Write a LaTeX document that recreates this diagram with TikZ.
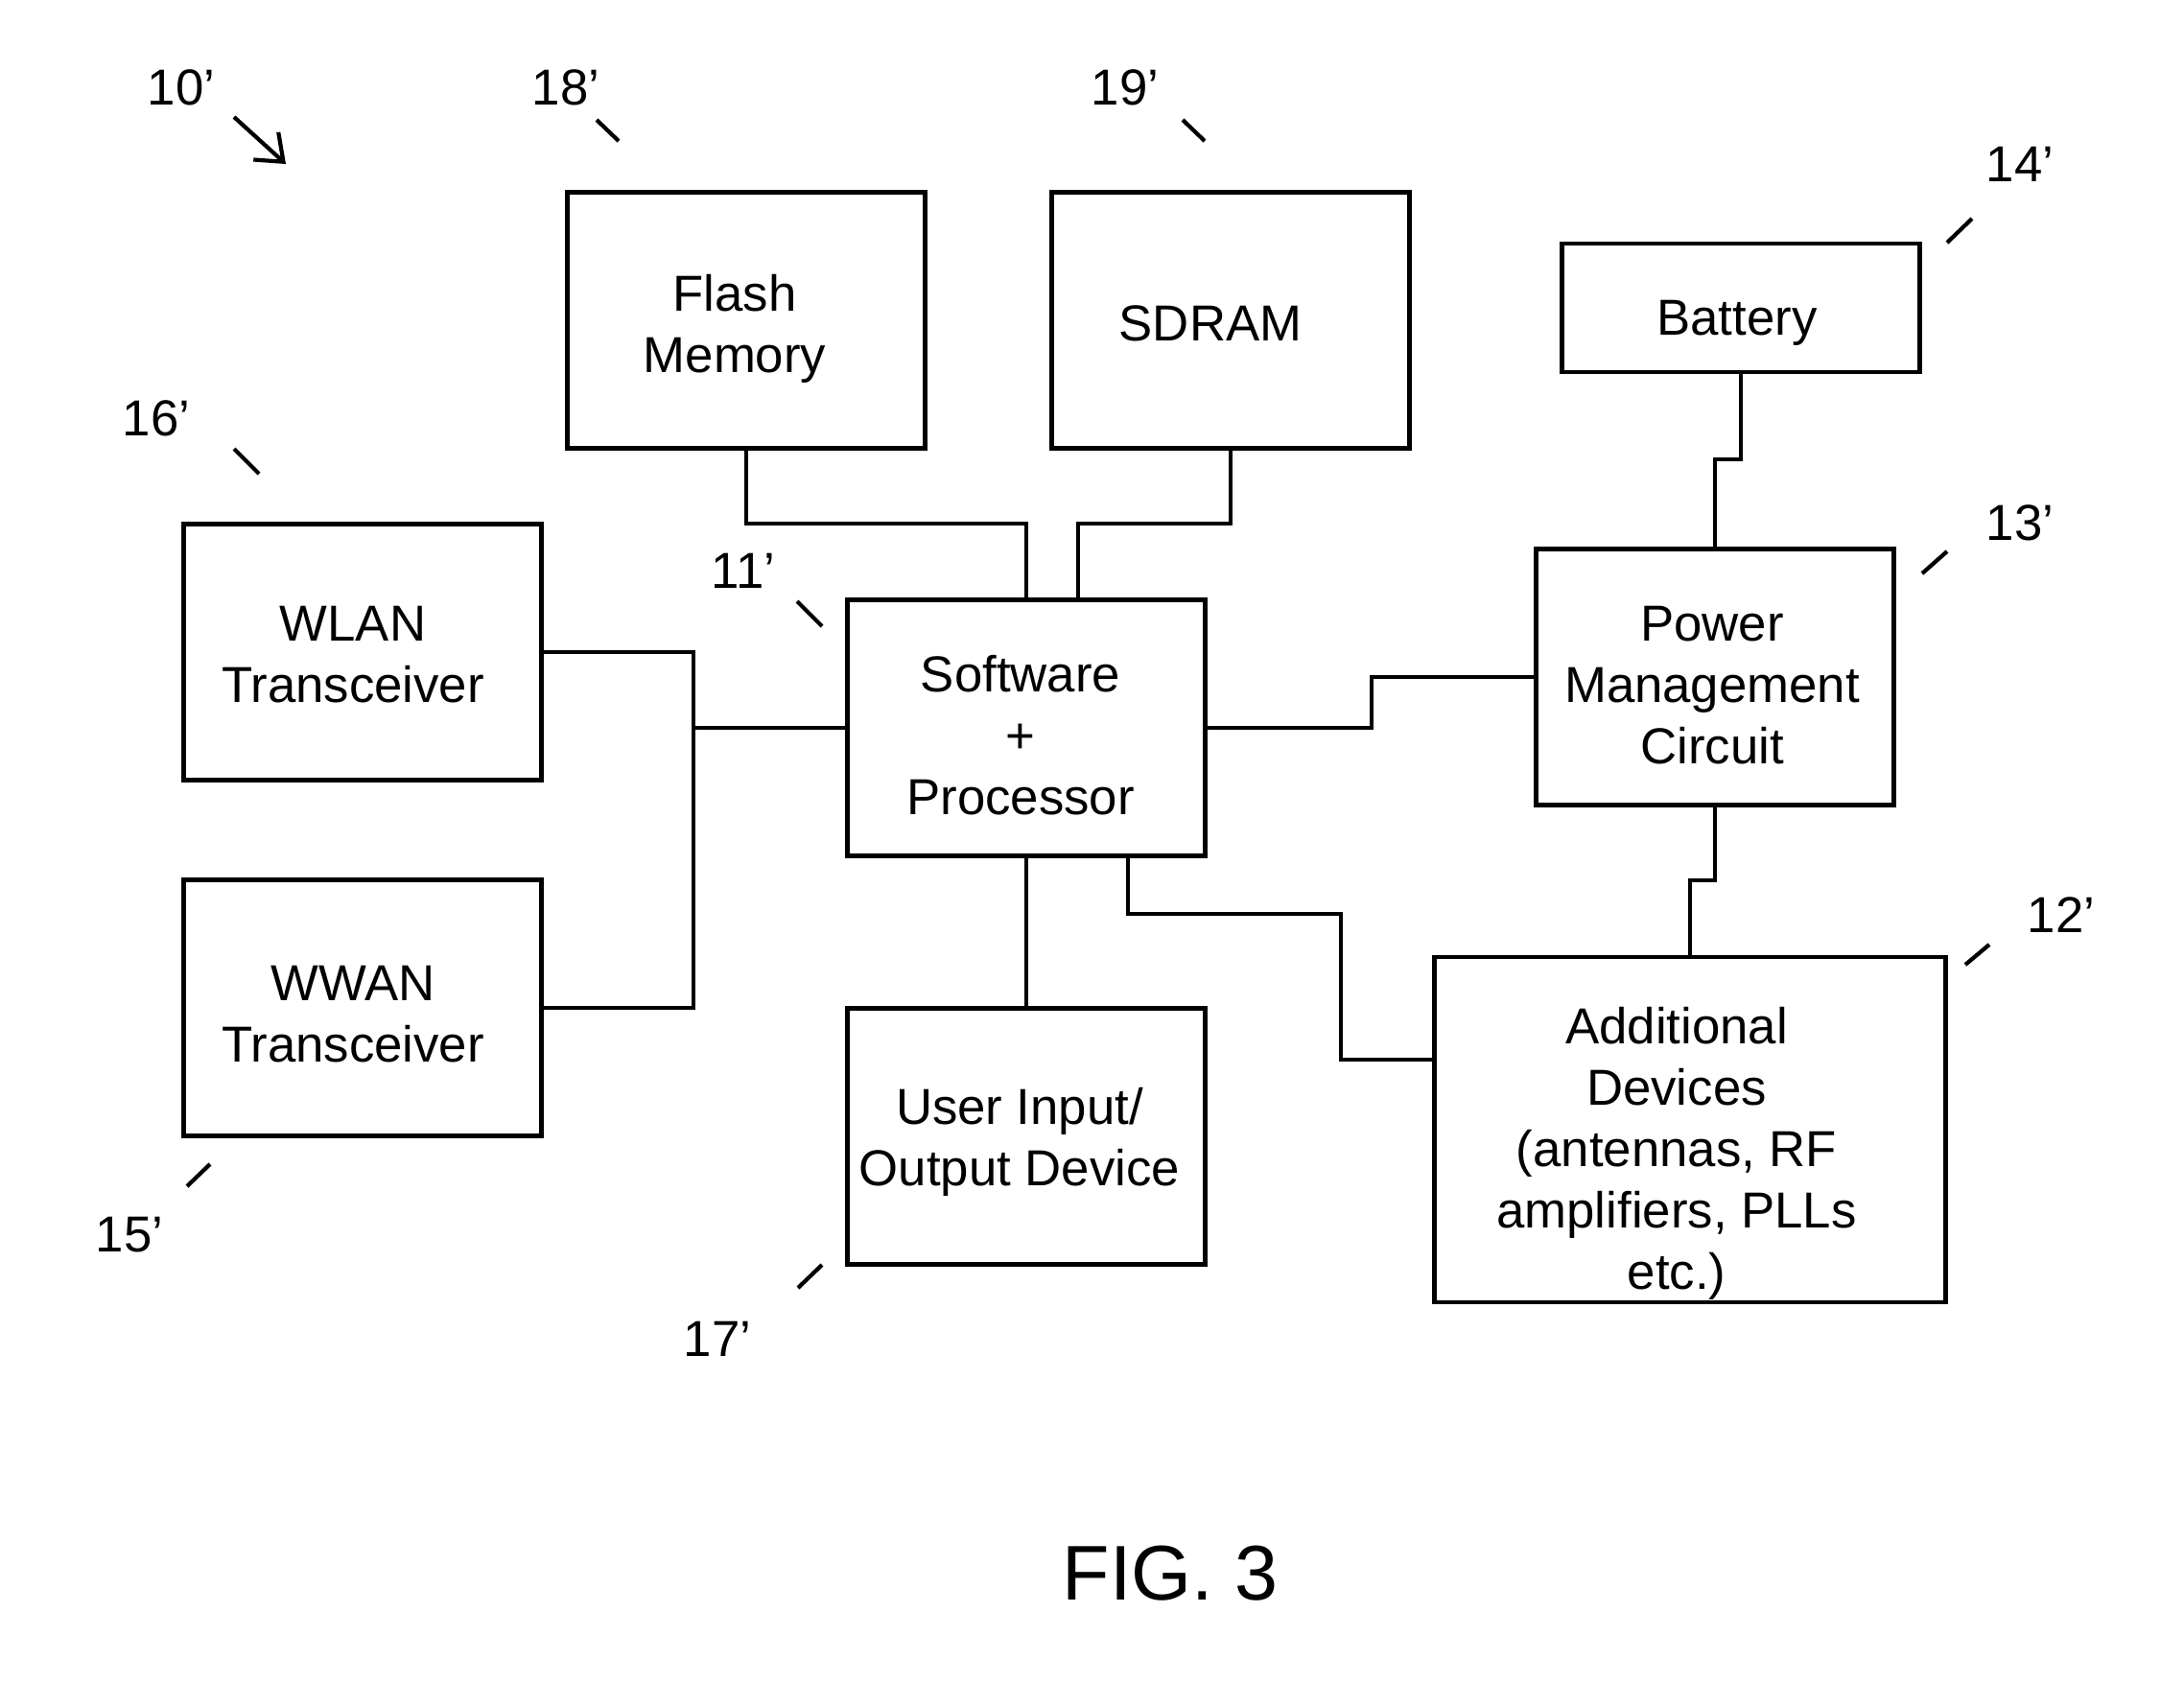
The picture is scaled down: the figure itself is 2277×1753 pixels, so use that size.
\documentclass[tikz,border=0pt]{standalone}
\usepackage{fontspec}
\setmainfont{Liberation Sans}
\usetikzlibrary{arrows.meta,calc}
\begin{document}
\begin{tikzpicture}[x=0.01cm,y=-0.01cm,
  box/.style={draw,line width=1.3pt,minimum width=3.73cm,minimum height=2.67cm,inner sep=0pt},
  txt/.style={align=center,inner sep=0pt,font=\fontsize{15}{18.2}\selectfont},
  wire/.style={line width=1pt},
  tick/.style={line width=1.2pt},
  lbl/.style={font=\fontsize{15}{18}\selectfont,inner sep=0pt}]
\useasboundingbox[fill=white] (0,0) rectangle (2277,1753);
% boxes
\node[box] (flash) at (778,334) {};
\node[box] (sdram) at (1283,334) {};
\node[box,minimum height=1.34cm] (battery) at (1815,321) {};
\node[box] (wlan) at (378,680) {};
\node[box] (wwan) at (378,1051) {};
\node[box] (proc) at (1070,759) {};
\node[box] (pmc) at (1788,706) {};
\node[box] (uio) at (1070,1185) {};
\node[box,minimum width=5.33cm,minimum height=3.6cm] (add) at (1762,1178) {};
% box texts
\node[txt] (flashT) at ($(flash.center)+(-12,9)$) {Flash\\Memory};
\node[txt] (sdramT) at ($(sdram.center)+(-21,3)$) {SDRAM};
\node[txt] (batteryT) at ($(battery.center)+(-4,16)$) {Battery};
\node[txt] (wlanT) at ($(wlan.center)+(-10,3)$) {WLAN\\Transceiver};
\node[txt] (wwanT) at ($(wwan.center)+(-10,7)$) {WWAN\\Transceiver};
\node[txt] (procT) at ($(proc.center)+(-6,8)$) {Software\\+\\Processor};
\node[txt] (pmcT) at ($(pmc.center)+(-3,9)$) {Power\\Management\\Circuit};
\node[txt] (uioT) at ($(uio.center)+(-7,6)$) {User Input/\\Output Device};
\node[txt] (addT) at ($(add.center)+(-14,25)$) {Additional\\Devices\\(antennas, RF\\amplifiers, PLLs\\etc.)};
% helper coordinates
\coordinate (ymem) at (0,546);
\coordinate (ybat) at (0,479);
\coordinate (ypmc) at (0,918);
\coordinate (xpow) at (1430,0);
\coordinate (busx) at (723,0);
\coordinate (procN2) at ($(proc.north)+(54,0)$);
\coordinate (procS2) at ($(proc.south)+(106,0)$);
\coordinate (bendA) at (1398,953);
\coordinate (bendB) at (1398,1105);
% connectors
\draw[wire] (flash.south) -- (flash.south |- ymem) -| (proc.north);
\draw[wire] (sdram.south) -- (sdram.south |- ymem) -| (procN2);
\draw[wire] (battery.south) -- (battery.south |- ybat) -| (pmc.north);
\draw[wire] (pmc.south) -- (pmc.south |- ypmc) -| (add.north);
\draw[wire] (proc.east) -- (proc.east -| xpow) |- (pmc.west);
\draw[wire] (wlan.east) -- (wlan.east -| busx) -- (wwan.east -| busx) -- (wwan.east);
\draw[wire] (proc.west -| busx) -- (proc.west);
\draw[wire] (proc.south) -- (uio.north);
\draw[wire] (procS2) |- (bendA) -- (bendB) -- (add.west |- bendB);
% reference labels
\node[lbl] (l10) at (189,91) {10’};
\node[lbl] (l18) at (590,91) {18’};
\node[lbl] (l19) at (1173,91) {19’};
\node[lbl] (l14) at (2106,171) {14’};
\node[lbl] (l16) at (163,436) {16’};
\node[lbl] (l11) at (775,595) {11’};
\node[lbl] (l13) at (2106,545) {13’};
\node[lbl] (l12) at (2149,954) {12’};
\node[lbl] (l15) at (135,1288) {15’};
\node[lbl] (l17) at (748,1396) {17’};
\node[font=\fontsize{23}{27}\selectfont] (fig) at (1220,1641) {FIG. 3};
% leader ticks
\coordinate (a10s) at (244,122); \coordinate (a10e) at (298,171);
\draw[tick,-{Straight Barb[length=7pt,width=11pt]}] (a10s) -- (a10e);
\coordinate (t18s) at (622,125); \coordinate (t18e) at (645,147);
\draw[tick] (t18s) -- (t18e);
\coordinate (t19s) at (1233,125); \coordinate (t19e) at (1256,147);
\draw[tick] (t19s) -- (t19e);
\coordinate (t14s) at (2030,253); \coordinate (t14e) at (2056,228);
\draw[tick] (t14s) -- (t14e);
\coordinate (t16s) at (244,468); \coordinate (t16e) at (270,494);
\draw[tick] (t16s) -- (t16e);
\coordinate (t11s) at (831,627); \coordinate (t11e) at (857,653);
\draw[tick] (t11s) -- (t11e);
\coordinate (t13s) at (2004,598); \coordinate (t13e) at (2030,575);
\draw[tick] (t13s) -- (t13e);
\coordinate (t12s) at (2049,1006); \coordinate (t12e) at (2074,985);
\draw[tick] (t12s) -- (t12e);
\coordinate (t15s) at (195,1237); \coordinate (t15e) at (219,1214);
\draw[tick] (t15s) -- (t15e);
\coordinate (t17s) at (832,1343); \coordinate (t17e) at (857,1319);
\draw[tick] (t17s) -- (t17e);
\end{tikzpicture}
\end{document}
